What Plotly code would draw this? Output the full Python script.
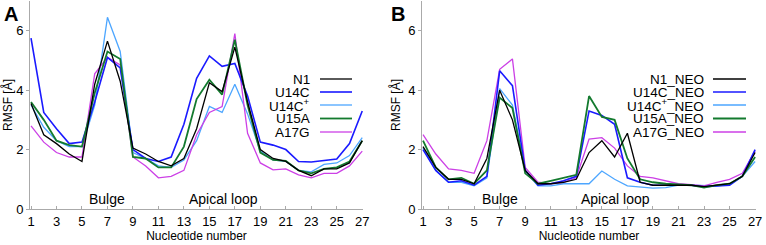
import plotly.graph_objects as go

nucleotides = list(range(1, 28))
tick_vals = [1, 3, 5, 7, 9, 11, 13, 15, 17, 19, 21, 23, 25, 27]

# Panel A
a_N1 = [3.55, 2.5, 2.2, 1.85, 1.6, 4.2, 5.65, 4.3, 2.05, 1.85, 1.6, 1.45, 1.7, 2.7, 4.25, 3.95, 5.45, 3.6, 2.0, 1.7, 1.6, 1.3, 1.12, 1.35, 1.35, 1.55, 2.3]
a_U14C = [5.75, 3.25, 2.7, 2.2, 2.25, 3.6, 5.1, 4.75, 2.0, 1.7, 1.6, 1.75, 2.85, 4.4, 5.15, 4.8, 4.9, 3.8, 2.25, 2.15, 2.0, 1.6, 1.58, 1.62, 1.68, 2.2, 3.3]
a_U14Cp = [3.5, 2.75, 2.3, 2.1, 2.1, 3.5, 6.45, 5.3, 1.9, 1.7, 1.45, 1.4, 1.65, 2.3, 3.45, 3.25, 4.2, 3.2, 1.95, 1.65, 1.6, 1.3, 1.25, 1.5, 1.55, 1.8, 2.4]
a_U15A = [3.6, 3.0, 2.3, 2.15, 2.1, 3.9, 5.3, 5.05, 1.75, 1.7, 1.4, 1.4, 2.1, 3.7, 4.35, 3.85, 5.7, 3.5, 1.9, 1.65, 1.62, 1.3, 1.2, 1.35, 1.4, 1.6, 2.3]
a_A17G = [2.8, 2.25, 1.9, 1.75, 1.75, 4.55, 5.1, 4.85, 1.75, 1.45, 1.05, 1.1, 1.3, 2.5, 3.25, 3.45, 5.9, 2.55, 1.55, 1.32, 1.35, 1.15, 1.05, 1.2, 1.2, 1.45, 1.95]

# Panel B
b_N1 = [2.1, 1.4, 1.0, 1.0, 0.85, 1.7, 4.0, 3.0, 1.3, 0.85, 0.85, 0.9, 1.0, 1.9, 2.3, 1.75, 2.55, 0.9, 0.8, 0.8, 0.82, 0.8, 0.75, 0.8, 0.85, 1.1, 1.9]
b_U14C = [2.0, 1.3, 0.9, 0.95, 0.8, 1.1, 4.65, 4.15, 1.3, 0.8, 0.85, 0.95, 1.1, 3.3, 3.15, 2.85, 1.05, 0.9, 0.8, 0.8, 0.82, 0.8, 0.75, 0.78, 0.8, 1.1, 2.0]
b_U14Cp = [2.05, 1.3, 0.9, 0.9, 0.78, 1.05, 4.05, 3.5, 1.3, 0.78, 0.78, 0.85, 0.85, 0.85, 1.28, 1.0, 0.78, 0.75, 0.7, 0.72, 0.8, 0.8, 0.78, 0.78, 0.82, 1.1, 1.6]
b_U15A = [2.3, 1.4, 1.0, 1.05, 0.85, 1.3, 3.75, 3.4, 1.2, 0.85, 0.95, 1.05, 1.15, 3.8, 3.1, 3.0, 1.7, 1.0, 0.9, 0.85, 0.82, 0.8, 0.72, 0.8, 0.85, 1.1, 1.75]
b_A17G = [2.5, 1.85, 1.35, 1.3, 1.2, 2.3, 4.7, 5.05, 1.4, 0.9, 0.85, 0.9, 1.05, 2.35, 2.4, 2.05, 1.45, 1.1, 1.05, 0.95, 0.85, 0.82, 0.78, 0.9, 1.0, 1.2, 1.95]

labels_a = ["N1", "U14C", "U14C<sup>+</sup>", "U15A", "A17G"]
labels_b = ["N1_NEO", "U14C_NEO", "U14C<sup>+</sup>_NEO", "U15A_NEO", "A17G_NEO"]
colors = ["#000000", "#1a1aff", "#4da6ff", "#137a2e", "#cc40e6"]
widths = [1.3, 1.6, 1.3, 1.8, 1.3]

series_a = [a_N1, a_U14C, a_U14Cp, a_U15A, a_A17G]
series_b = [b_N1, b_U14C, b_U14Cp, b_U15A, b_A17G]

W, H = 766, 245
fig = go.Figure()

order = [2, 4, 1, 3, 0]
for i in order:
    fig.add_trace(go.Scatter(x=nucleotides, y=series_a[i], mode="lines",
                             line=dict(color=colors[i], width=widths[i]),
                             xaxis="x", yaxis="y", showlegend=False))
    fig.add_trace(go.Scatter(x=nucleotides, y=series_b[i], mode="lines",
                             line=dict(color=colors[i], width=widths[i]),
                             xaxis="x2", yaxis="y2", showlegend=False))

font = "Liberation Sans, Arial, sans-serif"
axis_common = dict(showgrid=False, zeroline=False, showline=True, linecolor="#aaaaaa",
                   linewidth=1, automargin=False,
                   tickfont=dict(size=13, color="#000", family=font))
title_font = dict(size=12, family=font, color="#000")

fig.update_layout(
    width=W, height=H, margin=dict(l=0, r=0, t=0, b=0, autoexpand=False),
    plot_bgcolor="white", paper_bgcolor="white",
    font=dict(family=font, color="#000"),
    showlegend=False,
    xaxis=dict(domain=[30 / W, 363 / W], range=[0.92, 27.06], tickvals=tick_vals,
               ticks="inside", ticklen=3, tickcolor="#aaaaaa",
               title=dict(text="Nucleotide number", font=title_font, standoff=4),
               anchor="y", **axis_common),
    yaxis=dict(domain=[36 / H, 244 / H], range=[0, 7], tickvals=[0, 2, 4, 6],
               ticks="outside", ticklen=3, tickcolor="#aaaaaa",
               title=dict(text="RMSF [Å]", font=title_font, standoff=4),
               anchor="x", **axis_common),
    xaxis2=dict(domain=[422 / W, 756 / W], range=[0.92, 27.07], tickvals=tick_vals,
                ticks="inside", ticklen=3, tickcolor="#aaaaaa",
                title=dict(text="Nucleotide number", font=title_font, standoff=4),
                anchor="y2", **axis_common),
    yaxis2=dict(domain=[36 / H, 244 / H], range=[0, 7], tickvals=[0, 2, 4, 6],
                ticks="outside", ticklen=3, tickcolor="#aaaaaa",
                title=dict(text="RMSF [Å]", font=title_font, standoff=4),
                anchor="x2", **axis_common),
)

annotations = []
shapes = []
annotations.append(dict(text="<b>A</b>", x=2 / W, y=1 - 1 / H, xref="paper", yref="paper",
                        xanchor="left", yanchor="top", showarrow=False,
                        font=dict(size=20, family=font, color="#000")))
annotations.append(dict(text="<b>B</b>", x=389 / W, y=1 - 1 / H, xref="paper", yref="paper",
                        xanchor="left", yanchor="top", showarrow=False,
                        font=dict(size=20, family=font, color="#000")))
for xr, yr in (("x", "y"), ("x2", "y2")):
    annotations.append(dict(text="Bulge", x=7, y=0.33, xref=xr, yref=yr, showarrow=False,
                            font=dict(size=14, family=font, color="#000")))
    annotations.append(dict(text="Apical loop", x=16.1, y=0.33, xref=xr, yref=yr, showarrow=False,
                            font=dict(size=14, family=font, color="#000")))

leg_y = [79, 92, 105, 118.5, 132]
for labels, text_right, line_x0, line_x1 in ((labels_a, 312, 320, 352), (labels_b, 706, 713, 746)):
    for k, lab in enumerate(labels):
        yp = 1 - leg_y[k] / H
        annotations.append(dict(text=lab, x=text_right / W, y=yp, xref="paper", yref="paper",
                                xanchor="right", yanchor="middle", showarrow=False,
                                font=dict(size=13.5, family=font, color="#000")))
        shapes.append(dict(type="line", xref="paper", yref="paper",
                           x0=line_x0 / W, x1=line_x1 / W, y0=yp, y1=yp,
                           line=dict(color=colors[k], width=widths[k])))

fig.update_layout(annotations=annotations, shapes=shapes)
fig.write_html("out.html", config={"displayModeBar": False},
               post_script="document.body.style.margin='0';document.body.style.overflow='hidden';")
